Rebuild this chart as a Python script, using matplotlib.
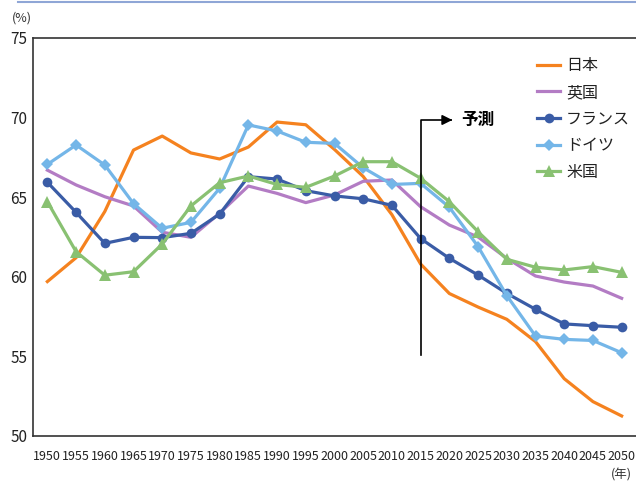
import matplotlib
matplotlib.use("Agg")
import matplotlib.pyplot as plt
from matplotlib import font_manager
from matplotlib.lines import Line2D

plt.rcParams['font.family'] = ['Noto Sans CJK JP', 'DejaVu Sans']

years = list(range(1950, 2051, 5))
year_labels = [str(y) for y in years]
series_names = ["日本", "英国", "フランス", "ドイツ", "米国"]

japan = [59.7, 61.2, 64.1, 67.96, 68.84, 67.78, 67.4, 68.15, 69.72, 69.55, 68.0, 66.3,
         63.9, 60.8, 58.95, 58.1, 57.33, 55.93, 53.6, 52.16, 51.26]
uk = [66.7, 65.77, 65.03, 64.45, 62.8, 62.48, 64.0, 65.7, 65.24, 64.66, 65.14, 66.0,
      66.08, 64.4, 63.25, 62.5, 61.16, 60.05, 59.67, 59.42, 58.65]
france = [65.94, 64.05, 62.1, 62.48, 62.46, 62.73, 63.94, 66.29, 66.14, 65.41, 65.08, 64.9,
          64.49, 62.4, 61.16, 60.11, 58.96, 57.96, 57.04, 56.93, 56.83]
germany = [67.06, 68.28, 67.02, 64.6, 63.05, 63.42, 65.56, 69.54, 69.16, 68.45, 68.38, 66.85,
           65.8, 65.87, 64.37, 61.9, 58.82, 56.28, 56.07, 56.0, 55.23]
usa = [64.72, 61.58, 60.1, 60.32, 62.06, 64.45, 65.91, 66.33, 65.8, 65.62, 66.33, 67.23,
       67.23, 66.19, 64.72, 62.83, 61.1, 60.6, 60.43, 60.64, 60.28]

yticks = [50, 55, 60, 65, 70, 75]
forecast_year = 2015
forecast_label = "予測"

fig = plt.figure(figsize=(6.36, 4.82), dpi=100)
ax = fig.add_axes([33/636, 1-436/482, 1-33/636, (436-38)/482])

colors = ["#F5821F", "#B37CC4", "#3A5CA6", "#74B6E8", "#89C172"]
markers = [None, None, "o", "D", "^"]
msizes = [0, 0, 7, 6.5, 8]
data = [japan, uk, france, germany, usa]
for name, vals, c, m, ms in zip(series_names, data, colors, markers, msizes):
    ax.plot(years, vals, color=c, lw=2.3, marker=m, markersize=ms,
            markeredgewidth=0, label=name, solid_joinstyle='round')

ax.set_xlim(1947.5, 2052.5)
ax.set_ylim(50, 75)
ax.set_xticks(years)
narrow = [f.name for f in font_manager.fontManager.ttflist if 'Narrow' in f.name]
tick_family = ['Liberation Sans Narrow', 'Noto Sans CJK JP'] if narrow else ['Noto Sans CJK JP']
tick_size = 9 if narrow else 7
ax.set_xticklabels(year_labels, family=tick_family, fontsize=tick_size, color="#222222")
ax.set_yticks(yticks)
ax.set_yticklabels([str(v) for v in yticks], fontsize=11, color="#222222")
ax.tick_params(axis='x', length=0, pad=10)
ax.tick_params(axis='y', length=0, pad=4)
for s in ['top', 'left', 'bottom']:
    ax.spines[s].set_color("#333333")
    ax.spines[s].set_linewidth(1.2)
ax.spines['right'].set_visible(False)

# forecast marker
ax.plot([forecast_year, forecast_year, 2020.2], [55.1, 69.85, 69.85], color='black', lw=1.2)
ax.annotate("", xy=(2021.0, 69.85), xytext=(2019.5, 69.85),
            arrowprops=dict(arrowstyle='-|>', color='black', lw=1.2, mutation_scale=15))
ax.text(2022.0, 69.85, forecast_label, fontsize=12, fontweight='bold', va='center', ha='left')

leg = ax.legend(loc='upper left', bbox_to_anchor=(523/636, 1-43/482),
                bbox_transform=fig.transFigure, frameon=False, fontsize=11.5,
                handlelength=1.4, labelspacing=0.6, handletextpad=0.4)
for t in leg.get_texts():
    t.set_color("#222222")

fig.text(12/636, 1-18/482, "(%)", fontsize=9, color="#333333", va='center')
fig.text(621/636, 1-475/482, "(年)", fontsize=9, color="#333333", va='center', ha='center')
fig.add_artist(Line2D([18/636, 1], [1-1.5/482, 1-1.5/482], transform=fig.transFigure,
                      color="#8FA6D6", lw=1.5))

fig.savefig("out.png", dpi=100)
